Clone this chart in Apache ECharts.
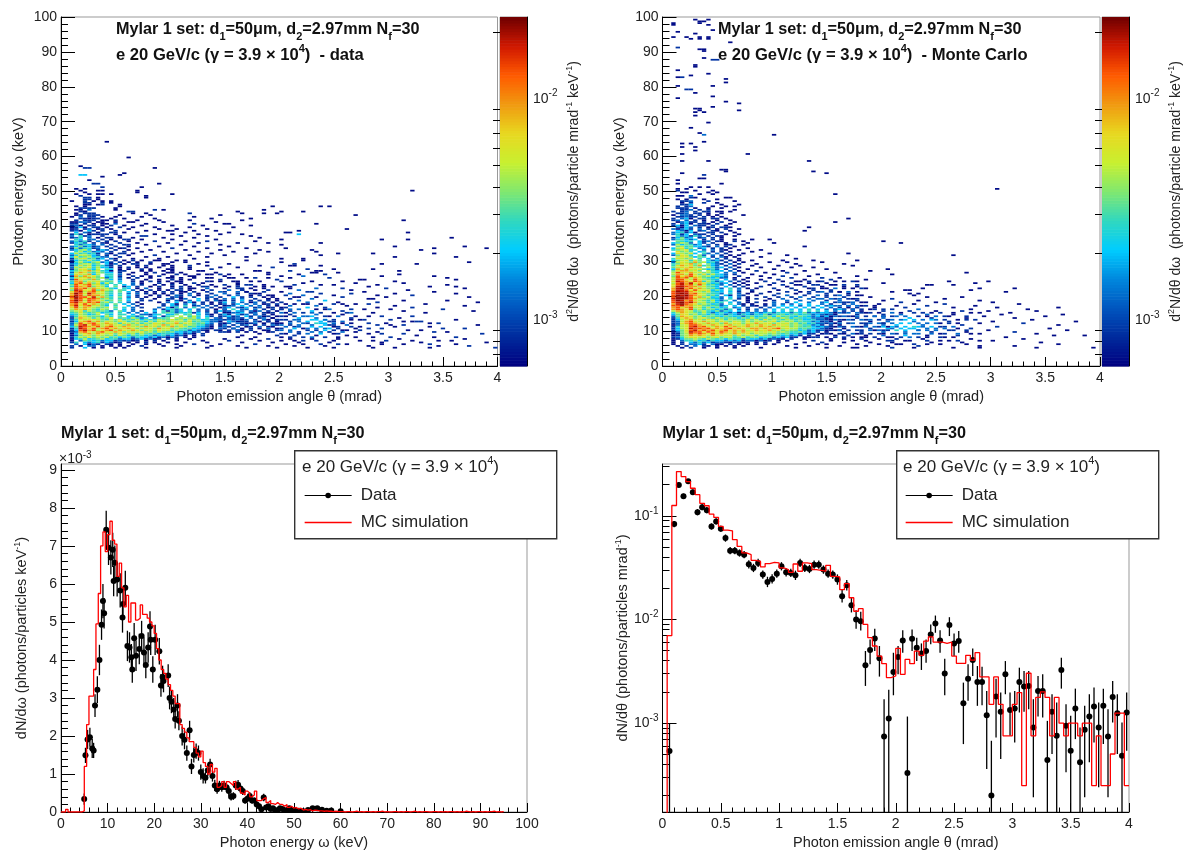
<!DOCTYPE html>
<html><head><meta charset="utf-8">
<style>html,body{margin:0;padding:0;background:#fff}#c{width:1186px;height:851px}</style>
<script src="https://cdn.jsdelivr.net/npm/echarts@6/dist/echarts.min.js"></script>
</head><body><div id="c"></div>
<script>
// ---------- values ----------
const THETA_BIN = 0.04, ENERGY_BIN = 0.5;
const levelCodes = '123456789abc';
const levelValues = [6.7e-4, 8.9e-4, 1.28e-3, 2.0e-3, 2.75e-3, 3.5e-3, 4.7e-3, 6.1e-3, 9.1e-3, 1.35e-2, 1.8e-2, 2.1e-2];
// each row: "keV col:levels col:levels ..." (col = theta bin, '.' = empty)
const dataCells = [
"64 10:1","59.5 15:1","57 4:1","56.5 5:22 21:1","55 14:1","54.5 4:44 13:1","54 9:1","53 6:1","52 7:22 22:1","51 9:2 18:1",
"50.5 3:1 5:1","50 4:1 8:1 9:1 17:1 80:1","49.5 5:1 17:1","49 3:1 6:1 8:11 11:1 25:1","48.5 4:2 19:1","48 5:22 8:1 19:1","47.5 5:22 8:1",
"47 2:1 5:2 7:1 9:1 11:1","46.5 5:22 9:2 11:1","46 5:11 8:1 9:2 13:1","45.5 3:1 5:1 13:1 48:1 59:1 61:1","45 4:22 6:22 12:1","44.5 3:11 6:3 12:1 21:2 23:1 46:1",
"44 4:22 5:1 15:22 40:1 50:1 55:1","43.5 3:1 5:222 16:1 19:1 29:2 41:1 46:1 49:1","43 3:12 6:222 13:1 20:1 36:1 67:1","42.5 2:1 4:3 6:22 9:1 12:1 18:1 30:1",
"42 4:221 7:22 11:1 14:1 21:1 34:1 43:1","41.5 3:2 5:222 9:11 12:2 17:1 22:1 29:1 41:1 78:1","41 2:11 4:33 6:2 8:11 12:1 15:11 23:1 35:1","40.5 2:22 5:2 7:1 9:11 12:3 19:1 30:2 37:11 58:1",
"40 2:2 3:31 6:22 9:1 11:2 14:1 18:1 25:1 32:1 43:1","39.5 2:1 3:2 4:41 7:22 10:1 13:2 16:1 21:1 29:1 39:1","39 2:12.2 6:3 8:12 11:1 15:1 22:1 26:1 33:1 65:1","38.5 2:2 3:31 6:4 7:2 9:2 12:2 19:1 24:11 30:1 35:1 54:1",
"38 3:4.3 6:2 8:1 11:22 14:1 17:1 28:1 38:1 51:11 79:1","37.5 2:2 3:52 6:1 7:222 10:2 12:1 21:1 25:1 31:1 36:1 41:1 54:4","37 2:3 4:5 5:2 6:3 9:2 13:2 18:22 27:1 33:1 43:1","36.5 2:2 3:35 6:3 8:1 10:22 13:1 16:1 23:1 30:1 45:1 89:1",
"36 3:5 4:4.3 7:3 9:2 11:1 14:22 18:1 25:1 35:1 50:1 73:1 79:1","35.5 2:3 3:53 5:5 6:2 8:3 10:2 12:2 15:1 21:2 28:1 33:2 44:1","35 2:2 3:45 5:3 7:2 9:2 10:1 13:2 17:1 24:1 31:1 40:1 47:1 59:1","34.5 3:5 4:35 6:4 7:3 9:3 11:2 14:22 19:1 27:1 36:1 50:1",
"34 2:3 3:46 5:3 6:42 8:3 10:2 12:2 15:1 22:1 30:1 38:1 76:1 92:1","33.5 2:2 3:6 4:35 6:5 7:2 8:3 11:2 13:12 17:1 25:2 33:1 42:1 51:1 85:1 97:1","33 2:3 3:46 5:7 6:4 8:24 10:3 12:2 15:1 20:1 28:1 36:1 45:1 57:1 82:1","32.5 3:57 5:46 7:34 9:3 11:2 14:2 18:1 23:1 31:1 39:1 47:1 58:1",
"32 2:4 3:75 5:6 6:45 8:2 10:31 13:22 16:1 26:1 34:1 44:1 63:1 71:1 85:1","31.5 2:3 3:57 5:76 7:4 8:3 10:2 12:2 15:1 21:2 29:1 37:1 59:1","31 2:4 3:85 5:6 6:74 8:53 10:3 13:2 19:1 24:1 33:1 42:1 76:1 90:1","30.5 2:2 3:67 5:85 7:6 8:34 11:3 12:1 16:1 22:1 30:1 50:1 55:1",
"30 2:2465754.3.2 14:1.2 18:1 21:11 26:1.1 42:1 55:1","29.5 2:1575467342 13:2.1 17:1 20:2 25:1 28:1 33:1 50:1 93:1","29 2:3467756.41 12:3 14:1 16:22 20:1 23:11 31:1 38:1 53:2 73:1 81:1","28.5 2:2586746532.2 17:1 19:2 23:1.1 29:2 33:1 45:1 52:11 59:1",
"28 2:3767857442 13:1 15:2.1 19:1 22:1 25:1 29:1 36:1 40:1 48:2","27.5 2:2688647.54.1 15:1 18:2.1 24:11 29:1 34:2 56:2 62:1 71:1","27 2:4678968541.2 14:2 18:1 20:1 23:1.1 31:11 44:11 52:2 58:11 77:1","26.5 2:3798657644.2 16:1 19:1 21:2 24:11 27:1 35:1 47:1 57:11 63:1",
"26 2:4887947.55.3 15:1 19:1 23:1 26:2 28:1 31:1 38:1 54:1 60:2 77:1","25.5 2:2969786.45.2 16:2.1 20:1 22:2 25:1 29:11 37:1 50:1 55:3 73:1 85:1","25 2:4788976735.3 15:1 17:2 20:1 24:11 27:1 30:1 33:1 42:1 52:1 61:2 88:1","24.5 2:3a87696.64.3 16:2 19:1 22:1 25:2 27:1 29:1 36:2 49:2 68:11 90:1",
"24 2:5996878656.4 16:2 18:1 20:2 22:1 24:1 26:11 34:1 45:1 50:2 57:1 64:1 76:1","23.5 2:49a7968475.5 16:3.1 22:2 25:1 27:1 30:2 32:1 40:1 55:1 67:1 78:1","23 2:6a89a7865.5.4 16:3 18:2 21:1 23:1 25:2 28:1 31:1 34:1 53:2 59:1 62:1 72:1 88:1","22.5 2:5a98a6874.6 14:2 15:4 17:2 20:1 22:2 25:1 27:2 29:1 46:1 51:11 70:1 84:1 90:1",
"22 2:7a9a7987754.5 15:4 17:1 19:3 22:1 25:2 27:2 29:11 43:1 52:1 58:3 64:2 74:2 92:1","21.5 2:6ba88a6976.6 14:5.3 18:1 20:2 22:1 24:1 26:22 29:1 41:1 47:2 54:3 66:1 79:1","21 2:8ab79a8865.6 15:4 17:2 19:1 21:1 23:2 25:2 27:11 30:2 42:2 50:1 56:22 69:1 85:1","20.5 2:9ca8b97865.5 15:3 17:3 19:2 21:1 23:1 25:2 27:1 29:3 31:1 44:1 52:3 59:2 66:2 76:1 90:1",
"20 2:9ba7a99764.5 15:4 17:2 20:1 22:2 24:1 26:32 29:3 31:1 47:1 51:2 55:3 62:1 72:1 80:2","19.5 2:acaa8b7965.6 15:3 17:2 19:1 22:1 25:231 30:2 33:2 48:1 53:11 58:1 64:2 74:1 93:1","19 2:9ba8aa9675.5 15:4 18:2 21:1 24:32 27:13 31:4 33:2 35:1 47:1 52:2 57:3 70:11","18.5 2:aca7a98756.6 15:4 18:2 20:2 24:1 26:31 29:3.4 33:2 36:1 49:1 54:3 60:4 78:1 88:1",
"18 2:ab98a9a675.5 15:3 17:1 22:1 24:3 26:4.2 29:41 32:2 34:1 50:2 56:3 63:1 72:2 95:1","17.5 2:9a8a89765.6 14:4 16:3 18:1 23:2 25:41 28:3 30:3 32:2 34:1 36:1 51:1 55:11 62:2 67:1 83:1","17 2:9b89a7864.5 15:4 17:2 23:2 25:43 28:5 30:2 31:3 33:3 35:2 37:1 52:3 58:3 65:1 76:1 92:1","16.5 2:8a7987667.6 14:5 16:3 18:2 22:3 24:41 26:5 28:3 30:5 32:3 34:2 36:1 51:2 56:4 60:2 72:1 80:2",
"16 2:798986576.5 14:4 16:3 21:3 23:24 25:53 27:5 29:4 31:3 33:3 35:1 37:1 50:1 54:3 61:3 69:1 87:2","15.5 2:6785765653.6 14:4 16:3 18:2 21:4 23:5 24:2 25:5 26:3 27:4 29:5 31:3 33:2 35:2 52:2 57:4 64:2 78:1 94:1","15 2:5686567455.5 15:3 17:3 19:4 21:3.5 24:6 25:5 26:3 27:5 28:4 29:5 30:2 31:4 33:3 35:2 37:1 53:3 59:2 66:3 83:1",
"14.5 2:4576457.64.5 14:5.4.3 19:3 20:2 21:45.4 25:46.5 29:6.5 31:4 33:3 34:1.2 44:2 52:2 58:3 64:1","14 2:3587666475 13:6.4 16:5 17:3 18:5 20:34.2 24:5 25:6.7.6 29:5 30:7 31:5 33:4 34:2.2 46:1 50:2 55:3 60:2 70:1","13.5 2:2698757568.5 14:6 15:4 16:7 17:5 18:34.3 22:5 23:5 24:6.7 27:67 29:6 30:7 31:4 33:5.3 36:2.1 48:1 54:4 58:3 66:2 77:1",
"13 2:35878876 10:5 11:7 12:6 13:8 14:5 15:6 16:5 17:7 18:4 19:6 20:5 21:5 22:7 23:6 24:6 25:8 26:6 27:7 28:5 29:7 30:6 31:6 32:4 33:5 34:3 35:3 36:1 39:2 49:2 53:3 60:4 68:1 90:1","12.5 2:2489a7 8:96 10:87 12:6 13:87 15:5 16:7 17:6 18:6 19:4 20:7 21:5 22:7 23:8 24:6 25:7 26:8 27:7 28:6 29:8 30:5 31:6 32:5 33:4 34:3 35:3 36:1 40:1 47:1 52:2 56:4 62:2 80:1","12 2:36a8 6:9a 8:87 10:98 12:7 13:5 14:8 15:7 16:6 17:8 18:5 19:7 20:6 21:8 22:7 23:6 24:8 25:7 26:9 27:6 28:8 29:7 30:6 31:5 32:6 33:4 34:3 36:2 37:1 42:1 50:1 55:3 58:5 66:1 86:2",
"11.5 2:37ab 6:8a 8:97 10:89 12:7 13:8 14:6 15:9 16:7 17:6 18:8 19:6 20:7 21:8 22:7 23:9 24:6 25:8 26:7 27:8 28:6 29:7 30:6 31:5 32:5 33:3 34:2 36:1 49:2 54:3 60:4 75:1 95:1","11 2:46ba 6:98 8:a7 10:9a 12:8 13:7 14:9 15:8 16:7 17:8 18:6 19:9 20:7 21:8 22:6 23:8 24:7 25:9 26:6 27:8 28:7 29:5 30:6 31:4 32:4 33:3 34:1 36:2 48:1 53:2 57:4 63:2 84:1","10.5 2:25ba 6:8a 8:79 10:a8 12:9 13:7 14:8 15:9 16:8 17:6 18:8 19:7 20:8 21:6 22:9 23:7 24:8 25:6 26:7 27:6 28:5 29:6 30:4 31:4 32:3 33:2 34:1 39:1 50:2 56:3 61:4 70:2 92:2",
"10 2:24ab 6:9a 8:78 10:9a 12:7 13:9 14:8 15:7 16:9 17:8 18:6 19:8 20:7 21:6 22:8 23:7 24:7 25:5 26:6 27:5 28:5 29:3 30:4 31:3 32:2 33:1 40:1 47:1 52:3 58:2 64:1 79:1","9.5 2:239a 6:87 8:9a 10:87 12:9 13:8 14:6 15:8 16:7 17:7 18:8 19:6 20:7 21:5 22:7 23:6 24:5 25:6 26:4 27:4 28:3 29:4 30:2 31:3 33:1 37:2 42:1 48:2 54:2 59:3 67:1 88:1","9 2:1478 6:97 8:98 10:7 11:8 12:6 13:8 14:7 15:6 16:7 17:5 18:7 19:6 20:5 21:6 22:4 23:5 24:5 25:4 26:3 27:4 28:2 29:3 30:1 32:2 45:1 51:1 56:3 62:1 73:2 96:2",
"8.5 2:13 4:68 6:76 8:87 10:6 11:7 12:5 13:7 14:6 15:4 16:6 17:5 18:6 19:4 20:5 21:3 22:4 23:5 24:3 25:4 26:2 27:3 28:1 30:1 32:2 41:1 49:2 53:2 58:1 65:1 81:1","8 2:2576 6:86 8:76 10:7 11:5 12:6 13:4 14:6 15:5 16:3 17:5 18:4 19:4 20:3 21:4 22:2 23:3 24:1 25:3 26:2 28:1 30:1 40:1 44:1 50:1 55:2 60:2 71:1 85:1","7.5 2:1 3:4 4:57 6:45 8:67 10:4 11:5 12:5 13:3 14:4 15:4 16:2 17:3 18:4 19:2 20:3 21:1 22:2 24:2 26:1 29:1 37:1 43:1 47:2 52:1 57:1 63:1 77:1 92:1",
"7 2:1 4:36 6:54 8:5 9:3 10:4 11:4 12:2 13:3 14:2 15:3 16:1 17:2 19:1 21:2 23:1 26:1 32:1 38:2 45:1 50:1 55:2 68:1 74:2 89:1","6.5 2:2 3:5 5:4 6:3 7:45 9:2 10:4 11:3 12:1 13:2 15:1 17:1 19:2 21:1 24:1 28:1 33:1 41:1 48:1 54:1 61:1 73:1 82:1 97:1","6 3:3 5:4 6:1 7:3 8:2 10:2 11:1 13:1 16:1 19:1 22:1 26:1 30:2 36:1 44:2 51:1 59:2 65:1 78:1",
"5.5 2:2 4:1 6:3 7:3 9:1 11:1 13:1 15:1 18:2 23:1 27:1 34:1 40:1 47:1 53:1 60:1 70:1 86:1 93:2","5 2:2 5:4 7:1 9:1 12:1 14:1 19:1 26:1 33:1 42:1 49:1 56:1 62:1 71:1 76:1 84:1 99:2",
"26 33:11 36:2 41:1 47:1","25 34:1 38:11 44:2 47:1","24 33:2 36:1 39:11 43:1","23 37:2 40:1 42:22 46:1","22.5 32:22 35:1 38:1 40:2 44:1 48:1","22 33:3 37:1 40:22 46:1","21.5 32:1 34:2 38:3 41:2 44:1","21 33:2 36:32 40:3 42:1 46:2","20.5 34:2 37:3 40:2 43:2 45:1",
"20 33:2 35:3 38:2 40:3 43:1 45:2 48:1","19.5 34:3 36:2 39:4 41:2 43:2 46:1","19 35:2 37:3 39:3 41:3 44:2 47:1 49:1","18.5 35:3 37:2 39:2 41:4 43:2 45:2 47:2","18 36:2 37:4 39:3 41:3 43:1 44:3 46:2 48:1","17.5 37:3 39:2 40:4 42:3 44:3 46:1 47:2 49:2","17 38:2 39:3 41:4 43:3 45:3 47:2 49:1",
"16.5 37:3 38:4 40:3 41:2 42:4 44:2 45:3 47:1 48:2 50:1","16 37:3 39:5 41:3 42:3 44:3 46:2 48:2 50:2","15.5 36:4 37:2 38:3 40:4 41:3 43:3 44:1 45:3 47:2 49:1","15 38:1 39:3 40:3 41:4 43:2 44:3 46:2 47:1 48:2 51:1","14.5 37:4 38:2 40:4 41:2 42:3 44:3 46:2 48:1","14 37:3 38:4 39:2 40:3 42:4 43:2 45:3 47:2 49:1",
"13.5 38:3 39:2 40:3 41:2 43:3 45:2 46:3 48:1","13 36:3 37:2 38:3 40:3 41:1 42:3 44:2 46:3 47:1 49:2 51:2","12.5 38:4 39:3 41:2 42:2 44:3 45:1 47:2 49:1","12 38:3 40:3 41:2 43:2 44:3 46:1 48:2 49:1","11.5 37:3 39:2 41:2 42:3 44:1 46:2 48:3","11 37:3 38:2 40:3 42:1 43:2 45:3 47:1","10.5 36:3 37:2 39:3 41:1 43:2 45:1 47:3 49:1","10 35:2 36:1 38:2 40:3 41:1 43:2 46:1 49:2","9.5 36:2 38:1 40:2 44:1 47:1",
"17.5 53:1 59:1 64:1 70:2","16 52:3 58:1 60:1 66:2 75:1","15 50:3 55:2 57:3 62:1 65:2 71:1","14 51:1 53:2 56:34 61:1 63:3 67:1 73:2 80:2","13 50:2 54:3 57:44 60:3 62:2 66:1 69:2 75:2","12.5 54:3 59:4 61:2 64:3 78:1 81:22","12 52:3 56:2 59:44 62:3 64:1 70:2 74:1 84:1","11.5 50:3 52:2 57:3 61:22 65:3 72:2 78:2","11 51:3 54:3 59:4 62:1 66:2 68:1 76:1","10.5 53:4 55:1 58:3 60:3 63:2 67:1 73:2 87:2","10 50:3 56:2 60:4 62:2 65:1 68:2 82:1","9.5 52:3 57:3 61:2 64:3 72:1 85:2","9 50:2 54:2 59:4 63:2 70:1 78:2","8 52:2 57:3 63:1 67:1 75:2 90:2","7 53:1 58:2 62:1 71:1 80:1 86:1","6 55:1 63:2 73:1 84:2 90:1"
];
const mcCells = [
"99 7:1 10:1","98.5 8:1 9:1","98 2:1 8:1","97.5 2:1 10:1","96 11:1","95.5 3:1","95 7:1","94 2:1 5:1 8:1 10:1","93.5 6:1 10:1 8:1","92.5 15:1","91 3:2","90.5 8:11","90 9:1",
"88 9:1","87.5 11:22","86 7:1","85.5 7:1","84.5 3:1","83.5 10:1","83 6:1","82.5 3:12","82 14:1","81 14:1","80 3:1 11:1","79 5:22","78 7:1","77 11:1","76.5 3:1","75.5 14:1","75 17:1",
"74 11:1","73.5 7:11","73 8:1 17:1","72.5 7:1 9:1","71.5 7:1","69.5 10:1","68 6:1","66.5 8:1","66 9:3 25:1","64 9:1","63.5 4:1 6:1","62.5 4:1 7:1","61.5 7:1","60.5 4:1 19:1","58.5 10:1 33:1","58.5 4:1",
"56 13:11","55.5 14:1 34:1","55 4:1 37:1","54.5 9:2","53.5 8:11","53 3:1","52 3:1 13:1","51 6:1 8:1 10:1","50.5 3:1 5:1 76:1","50 3:2 7:1 11:1","49.5 5:1 4:1 10:1 12:1","49 8:1 11:1 39:1","48.5 3:11 6:3",
"48 6:2 7:1 14:11","47.5 3:1 5:1 9:1 12:1","47 4:22 6:3 16:1 10:2","46.5 4:1 6:2 9:2 12:1","46 4:22 6:4 13:1 17:1","45.5 3:2 5:2 6:3 11:1 14:1 16:1","45 3:22 5:2 7:1 10:1 13:1","44.5 4:22 6:3 8:2 10:2 16:1",
"44 2:2 4:2 5:3 7:2 9:22 12:11 15:1","43.5 3:2 4:23 7:22 10:1 13:1","43 2:1 4:33 6:2 8:2 10:1 12:1 18:1","42.5 3:22 5:3 6:22 9:2 11:1 13:1","42 2:2 4:34 6:1 8:22 11:22 14:1 42:1","41.5 2:2 3:3 5:3 7:2 9:1 12:1 15:1","41 3:13 5:42 7:2 9:2 11:1 13:2 16:1 39:1",
"40.5 2:2 4:3 5:4 6:1 8:22 10:1 12:2 15:1","40 2:2 3:41 5:4 7:32 9:2 11:2 14:1","39.5 3:3 4:14 6:3 8:2 10:12 13:22 15:1 33:1","39 2:31 4:3 5:4 6:2 8:3 10:2 12:1 14:2 17:1","38.5 3:43 5:1 6:4 8:2 9:3 11:21 15:1 32:1",
"38 2:3 3:4 4:52 6:4 7:1 10:22 13:2 16:1","37.5 2:3 3:5 4:24 7:32 9:2 11:2 14:1 17:1","37 3:53 5:4 6:25 8:3 10:2 12:21 16:1","36.5 2:2 3:46 5:3 6:4 8:23 11:2 13:1","36 2:3 3:5 4:64 6:3 7:4 9:2 11:2 13:1 16:1 20:1 24:1","35.5 3:65 5:4 6:5 8:42 10:3 12:21 16:2 18:1 50:1",
"35 2:4 3:57 5:6 6:3 8:4 9:2 11:2 14:1 19:1 25:1 54:1","34.5 2:3 3:7 4:46 6:53 8:4 10:3 12:2 14:12 18:1","34 3:67 5:56 7:4 8:43 10:2 12:3 14:2 16:1 32:1","33.5 2:4 3:78 5:5 6:6 8:3 9:4 11:2 13:2 15:1 19:1","33 2:5 3:67 5:8 6:4 7:5 9:3 11:3 13:21 17:1 22:1",
"32.5 3:86 5:7 6:5 8:4 9:5 11:2 13:2 15:1 20:1","32 2:4 3:87 5:6 6:8 7:4 9:5 10:3 12:3 14:2 18:1 24:1 42:1","31.5 2:3 3:68 5:7 6:5 8:6 9:3 11:3 13:2 15:1 17:1 28:1 66:1","31 3:78 5:86 7:4 8:6 9:5 11:2 13:3 14:1 16:1 22:1","30.5 2:5 3:87 5:6 6:8 8:5 10:4 12:3 14:2 17:1 30:1",
"30 2:4678576.5342.2 17:1 20:1 27:1 34:1 44:1","29.5 2:3787696745 12:3 14:2 16:1 18:1 24:1 28:1 36:1","29 2:5688967.6432.3 17:2 21:1 30:1 41:1","28.5 2:5897869564 12:3 14:2 16:1 20:1 26:1 31:1 43:1","28 2:6788976.7534.3.1 22:1 29:1 34:1","27.5 2:4979878645 12:3.2.2 19:1 25:1 37:1 51:1",
"27 2:6899786.7544.3.1 21:2 27:1 32:1 47:1","26.5 2:7a88978 9:6754.3.3 18:1 23:1 28:2 39:1 69:1","26 2:7997a8685754 14:3.2 20:1 25:1 30:1 35:1 52:1","25.5 2:6a89a87 9:6 10:7 11:5 12:4 13:4 14:3 17:2 22:1 27:2 33:1 44:1","25 2:7a9a798 9:6 10:5 11:4 12:6 13:3 14:3 16:1 19:1 24:1 29:2 36:2 40:1",
"24.5 2:7aa87a8 9:7 10:6 11:5 12:4 14:4 16:2 18:1 22:1 26:2 32:1 38:2 46:1","24 2:8ba98a9 9:5 10:7 11:5 12:3 13:4 15:3 17:2 19:1 23:2 27:1 31:1 35:1 43:2 65:1 74:1","23.5 2:7ab9b89 9:8 10:6 11:4 12:5 13:3 14:4 16:1 18:1 21:1 25:2 29:2 33:1 37:1 50:1 71:1","23 2:8ab9a7a 9:7 10:5 11:6 12:4 13:3 15:3 17:2 19:1 24:1 27:2 30:1 34:2 39:1 60:11 66:1","22.5 2:8bba9 7:97 9:8 10:6 11:5 12:4 14:4 16:2 18:2 22:2 28:1 32:2 36:1 41:1 44:1",
"22 2:9bc9a 7:89 9:7 10:6 11:6 12:4 13:3 15:5 17:3 19:1 21:1 25:2 29:2 33:1 37:1 43:1 46:1 59:1 72:1 80:1","21.5 2:9bba8 7:a8 9:8 10:7 11:4 12:6 13:4 15:5 17:3 20:2 26:1 30:2 34:2 38:2 55:11 70:1","21 2:acbb9 7:87 9:6 10:8 11:5 12:4 13:4 15:4 17:2 20:1 24:1 28:2 31:1 35:2 40:1 52:1 78:1","20.5 2:abcb9 7:a8 9:7 10:6 11:5 12:5 13:3 15:5 17:3 19:1 22:2 26:2 30:1 33:2 37:2 42:1 56:1 58:1","20 2:acbca 7:98 9:7 10:5 11:6 12:4 14:4 15:2 17:3 18:2 21:1 25:2 28:3 32:2 35:3 39:2 44:1 57:1",
"19.5 2:accba 7:89 9:6 10:7 11:4 12:5 13:3 15:4 17:3 19:1 23:2 26:2 29:2 31:3 34:2 37:2 41:2 47:1 60:1 68:1","19 2:bccba 7:9 8:7 9:8 10:6 11:5 12:4 13:3 15:5 17:2 19:1 21:2 24:1 27:3 30:2 33:3 36:3 39:2 43:1 52:2 64:1","18.5 2:acb9a 7:87 9:6 10:5 11:7 12:4 13:3 14:5 16:3 19:1 23:1 25:2 28:3 31:3 34:3 37:2 40:3 44:2 50:1 58:1 72:1",
"18 2:abcab 7:97 9:7 10:5 11:6 12:4 13:5 15:4 17:3 19:1 21:2 25:3 28:2 30:4 33:3 36:3 39:2 42:2 46:1 54:2 62:1 75:1","17.5 2:9bca9 7:8 8:6 9:7 10:6 11:4 12:5 13:3 15:5 17:3 18:1 20:1 23:1 25:3 27:3 29:3 31:4 33:4 36:3 38:2 41:2 43:3 49:1 57:1 64:2 81:1","17 2:aab99 7:7 8:8 9:6 10:5 11:6 12:5 13:3 14:4 16:4 18:2 20:2 21:1 23:2 25:3 27:4 29:4 31:3 33:4 35:4 37:3 39:3 42:2 45:1 53:1 60:2 71:1",
"16.5 2:9a89a 7:77 9:5 10:7 11:4 12:6 13:4 14:5 16:3 17:4 19:2 22:2 24:3 26:4 28:4 30:4 32:4 34:3 36:4 38:3 40:2 42:1 44:2 48:1 55:2 66:1 76:1 90:1","16 2:9a98a 7:6 8:7 9:5 10:6 11:6 12:4 13:5 14:3 15:5 17:3 19:2 21:3 23:3 25:4 27:5 29:4 31:4 33:5 35:4 37:3 39:2 41:2 43:1 47:1 52:2 58:3 70:1 83:1","15.5 2:7998 6:75 8:6 9:7 10:5 11:4 12:6 13:3 14:5 15:4 17:4 19:3 21:3 23:3 25:4 27:4 29:5 31:4 33:5 35:5 37:4 39:3 41:2 43:2 45:1 50:2 56:2 62:1 68:2 74:1 85:1",
"15 2:5798 6:76 8:5 9:7 10:5 11:3 12:4 13:5 14:4 15:3 16:4 17:2 18:3 19:4 20:3 21:4 22:3 23:4 24:5 25:3 26:5 27:4 28:5 29:3 30:5 31:4 32:6 33:3 34:4 35:3 36:4 37:2 38:3 39:1 41:2 46:1 52:3 57:2 63:2 72:1 79:1",
"14.5 2:4688 6:67 8:5 9:6 10:4 11:6 12:4 13:5 14:3 15:5 16:4 17:3 18:5 19:4 20:3 21:5 22:4 23:6 24:3 25:5 26:5 27:6 28:4 29:5 30:6 31:4 32:5 33:5 34:3 35:4 36:3 37:2 38:3 39:1 44:2 50:2 54:3 60:3 66:1 77:1 91:1",
"14 2:3698 6:86 8:7 9:5 10:6 11:6 12:5 13:4 14:6 15:5 16:4 17:5 18:3 19:5 20:6 21:4 22:5 23:6 24:6 25:4 26:7 27:5 28:6 29:5 30:4 31:6 32:5 33:4 34:3 35:4 36:2 37:3 38:1 43:1 48:2 53:3 58:2 64:2 73:1 87:1",
"13.5 2:2589 6:86 8:7 9:8 10:6 11:5 12:7 13:6 14:5 15:6 16:6 17:4 18:6 19:5 20:7 21:5 22:6 23:5 24:7 25:6 26:5 27:7 28:6 29:4 30:6 31:5 32:4 33:5 34:3 35:3 36:3 37:1 38:2 44:2 50:3 56:4 61:2 69:1 80:1",
"13 2:2478 6:97 8:8 9:6 10:8 11:7 12:6 13:7 14:5 15:7 16:6 17:6 18:5 19:7 20:6 21:7 22:5 23:8 24:6 25:7 26:6 27:5 28:7 29:6 30:5 31:6 32:4 33:4 34:5 35:3 36:3 37:2 38:1 41:1 46:2 52:3 55:4 62:3 71:2 84:1",
"12.5 2:2379 6:a8 8:7 9:9 10:7 11:8 12:6 13:8 14:7 15:6 16:8 17:7 18:6 19:8 20:6 21:7 22:8 23:6 24:7 25:8 26:5 27:7 28:6 29:7 30:5 31:6 32:5 33:5 34:3 35:4 36:2 37:3 38:1 40:1 47:1 51:3 57:3 65:2 75:1 94:1",
"12 2:2389 6:a9 8:8 9:7 10:9 11:7 12:8 13:6 14:9 15:7 16:8 17:8 18:6 19:8 20:7 21:9 22:7 23:8 24:8 25:6 26:8 27:7 28:8 29:6 30:7 31:5 32:6 33:4 34:5 35:3 36:3 37:2 39:1 45:2 49:3 54:4 60:3 67:1 82:2",
"11.5 2:1378 6:aa 8:9 9:8 10:7 11:9 12:8 13:7 14:8 15:9 16:7 17:8 18:7 19:9 20:8 21:7 22:9 23:8 24:7 25:9 26:7 27:8 28:7 29:6 30:7 31:6 32:5 33:5 34:3 35:4 36:2 38:2 40:1 46:2 50:3 53:4 59:3 68:2 90:1",
"11 2:2578 6:ab 8:9 9:a 10:8 11:7 12:9 13:8 14:a 15:8 16:9 17:7 18:8 19:9 20:7 21:8 22:9 23:8 24:9 25:7 26:8 27:7 28:8 29:6 30:7 31:6 32:5 33:6 34:4 35:3 36:4 37:2 39:1 45:1 48:3 52:4 58:4 64:2 76:2",
"10.5 2:2478 6:ba 8:a 9:9 10:a 11:8 12:9 13:8 14:9 15:a 16:8 17:9 18:8 19:7 20:9 21:9 22:7 23:9 24:8 25:9 26:a 27:7 28:8 29:7 30:7 31:5 32:6 33:5 34:4 35:4 36:3 37:2 38:1 41:1 47:2 51:4 56:4 62:3 70:2 88:1",
"10 2:2468 6:ab 8:9 9:a 10:9 11:a 12:8 13:9 14:a 15:8 16:9 17:8 18:9 19:7 20:8 21:9 22:8 23:8 24:9 25:7 26:8 27:6 28:7 29:6 30:6 31:4 32:5 33:3 34:4 35:2 37:1 40:1 44:2 49:3 53:5 58:3 66:2 74:1 92:1",
"9.5 2:1368 6:ba 8:a 9:8 10:a 11:9 12:8 13:a 14:9 15:8 16:9 17:7 18:9 19:8 20:7 21:8 22:7 23:8 24:7 25:8 26:6 27:7 28:6 29:5 30:5 31:6 32:4 33:3 34:4 35:2 37:1 41:2 45:2 50:3 55:3 61:2 69:1 80:2",
"9 2:1267 6:a9 8:a 9:9 10:8 11:a 12:8 13:9 14:8 15:7 16:9 17:8 18:7 19:8 20:6 21:8 22:7 23:7 24:6 25:7 26:6 27:5 28:6 29:4 30:5 31:3 32:4 33:2 34:2 36:1 40:2 43:3 47:2 52:3 57:3 63:1 72:1 85:1",
"8.5 2:1 3:2 4:67 6:98 8:9 9:8 10:7 11:9 12:7 13:8 14:7 15:8 16:6 17:8 18:6 19:7 20:7 21:5 22:7 23:6 24:5 25:6 26:5 27:4 28:5 29:3 30:4 31:2 33:2 35:1 39:1 42:2 46:1 50:3 55:4 60:1 67:2 89:1 96:1",
"8 2:2 3:3 4:57 6:88 8:7 9:8 10:6 11:7 12:8 13:6 14:7 15:7 16:5 17:6 18:7 19:5 20:6 21:6 22:4 23:5 24:5 25:3 26:4 27:3 28:4 29:2 30:2 32:1 35:2 39:2 43:1 48:2 52:1 56:3 64:1 78:1",
"7.5 2:1 3:2 4:46 6:67 8:6 9:5 10:7 11:6 12:5 13:6 14:4 15:6 16:5 17:5 18:3 19:5 20:4 21:4 22:3 23:4 24:2 25:3 26:2 27:1 29:2 32:1 38:1 41:1 45:2 49:1 53:2 59:1 70:1 82:1",
"7 2:1 4:35 6:56 8:4 9:5 10:3 11:5 12:4 13:4 14:3 15:4 16:3 17:4 18:2 19:3 20:3 21:1 22:3 23:1 24:2 26:1 28:1 34:2 38:1 43:1 46:1 51:2 56:1 65:1 75:1","6.5 2:1 4:2 6:43 8:5 9:3 10:4 11:2 12:3 13:3 14:2 15:1 16:3 17:2 18:1 19:2 21:1 23:2 26:1 32:1 36:2 41:1 47:1 52:1 61:1 68:1 86:1",
"6 2:1 4:2 6:3 7:3 8:4 9:2 11:3 12:1 13:1 15:2 17:1 19:1 21:1 23:1 25:1 30:1 35:1 37:1 44:1 49:1 54:1 60:1 69:1 90:1","5.5 3:1 5:2 7:3 9:2 10:1 12:1 14:1 16:1 18:1 28:1 33:1 40:1 46:1 51:1 58:2 72:1 80:1","5 4:1 6:2 9:1 12:1 16:1 22:1 30:1 37:1 43:11 52:2 57:1 66:1 72:1 85:1 98:1",
"24 30:1 33:2 36:2 39:1 41:1 44:1","23 31:1 35:2 38:1 41:2 44:2","22 34:2 36:1 39:3 41:1 45:2","21 33:2 36:3 38:2 40:1 42:3 44:1","20 37:2 40:3 42:2 45:1","19 35:3 38:3 40:3 42:2 44:2","18 37:4 40:3 41:2 43:3 45:1","17 38:4 40:3 42:3 44:3 46:2 48:1","16 39:3 40:4 41:3 43:3 45:2 48:2 50:2","15 37:4 40:3 42:3 44:3 45:2 47:2 49:1",
"14 37:4 39:3 40:2 41:3 42:2 44:3 46:2 48:3 50:1","13 39:3 40:2 42:3 43:2 45:3 47:3 49:2","12 38:3 40:3 42:2 43:3 46:2 47:3 50:2","11 37:3 38:2 40:3 41:2 43:3 44:2 46:3 49:2 51:1","10 36:3 38:2 39:1 40:3 42:2 45:2 47:3 48:1 51:2","9 37:2 38:1 41:1 44:1 45:2 49:2 50:1","8 33:1 34:2 37:1 41:2 45:1 46:1",
"15 54:1 59:2 61:1 66:1 70:1","14 50:3 52:2 55:3 60:1 62:3 65:1 69:2","13 51:2 54:3 57:4 59:3 61:4 64:2 67:1 69:2","12 50:2 52:3 56:4 58:3 62:3 63:1 65:2 72:1","11 50:4 53:3 55:4 57:5 59:3 61:4 63:2 66:3","10.5 52:3 54:4 57:4 60:3 64:3 67:1","10 50:2 55:4 58:3 60:3 62:3 65:2 69:2","9 53:2 55:3 58:3 61:3 64:2 67:3 70:1","8 51:1 54:2 58:2 60:1 63:2 66:1","7 52:2 55:1 60:2 63:1 67:2 72:1","6 53:1 57:2 63:1"
];
// dN/domega, units of 1e-3 per keV, one value per 0.5 keV bin
const mcEnergy = [0,0,.07,0,0,0,0,0,0,.03,1.2,2.3,3.05,3.05,3.75,4.95,5.75,7,7.37,6.85,7.3,7.65,7.15,7.05,6.2,6.55,5.9,5.4,5.7,5,5.5,5.5,5.05,5.1,5.45,5.2,5.2,5.1,5,4.9,
4.7,4.3,4,3.75,3.65,3.5,3.35,3.2,3.05,2.85,2.85,2.3,2.2,2.1,1.95,1.85,1.85,1.7,1.55,1.45,1.6,1.3,1.2,1,1.25,1.05,1.15,.65,.7,.8,.65,.8,.75,.7,.8,.6,.65,.5,.45,.55,
.5,.4,.45,.55,.3,.3,.35,.38,.25,.3,.22,.2,.25,.2,.2,.15,.2,.12,.15,.1,.12,.08,.1,.05,.07,.05,.06,.03,.05,.04,.03,.03,.02,.03,.02,.02,.01,.02,.01,.01,
.01,0,.01,.01,0,.01,.02,0,.01,0,.01,.01,0,.01,0,.01,.01,.02,0,.01,0,0,.01,.01,0,.01,0,.01,.01,0,.01,.02,0,.01,0,.01,.01,0,0,.01,.01,0,.01,0,.01,0,.01,.01,0,.01,
0,.01,0,.02,.01,0,.01,0,.01,.01,0,.01,0,.01,.01,.02,0,.01,0,.01];
const dataEnergyX = [4.98,5.25,5.7,6.2,6.7,7,7.3,7.8,8.25,8.7,9,9.25,9.7,10.2,10.7,11.1,11.3,11.55,12.05,12.7,13.2,13.3,13.8,14.25,14.7,15.1,15.3,15.7,16.1,16.8,17.3,17.8,18.2,18.7,19.1,19.25,19.7,20.2,21.1,21.45,21.8,22,23,23.3,23.7,24.2,24.5,25,25.3,26,26.5,27,27.6,28,28.5,29,29.5,30,30.5,31,31.5,32,32.5,33,33.5,34,34.5,35,35.5,36,36.5,37,37.5,38,38.5,39,39.5,40,40.5,41,41.5,42,42.5,43,43.5,44,44.5,45,45.5,46,46.5,47,47.5,48,48.5,49,49.5,50,51,52,53,54,55,56,57,58,60];
const dataEnergyY = [.34,1.49,1.91,1.97,1.67,1.62,2.8,3.22,4,4.93,5.55,5.23,7.43,6.95,6.7,6.9,6.08,6.56,6.12,5.83,5.12,5.47,5.9,4.37,4.33,4.07,3.75,4.57,4.11,4.29,4.63,4.2,3.87,4.33,4.88,4.53,3.75,4.53,4.23,3.33,3.55,3.45,3.59,3,2.9,2.7,2.45,2.8,2.4,2,1.9,1.55,2.15,1.2,1.5,1.6,1.55,1.05,.95,.9,1.1,1.25,.95,.7,.6,.7,.65,.7,.65,.55,.4,.42,.7,.72,.62,.55,.3,.35,.42,.3,.3,.2,.15,.07,.38,.12,.15,.08,.1,.02,.05,.1,.08,.03,.05,.1,.03,.05,.03,.02,.05,.1,.1,.06,.03,.04,.02];
const dataEnergyErr = [.15,.2,.25,.25,.25,.2,.3,.35,.4,.4,.45,.4,.5,.45,.45,.45,.4,.45,.45,.45,.4,.4,.45,.4,.4,.35,.35,.4,.4,.4,.4,.4,.35,.4,.4,.4,.35,.4,.35,.3,.3,.3,.3,.3,.3,.3,.25,.3,.25,.25,.25,.2,.25,.2,.2,.2,.2,.2,.2,.15,.15,.15,.15,.15,.12,.12,.12,.12,.12,.12,.1,.1,.12,.12,.1,.1,.08,.1,.1,.08,.08,.08,.06,.06,.1,.05,.05,.05,.05,.03,.04,.05,.05,.03,.04,.05,.03,.04,.03,.03,.04,.05,.05,.04,.03,.03,.02];
// dN/dtheta per 0.04 mrad bin
const mcTheta = [1e-4,.007,.1257,.267,.239,.214,.1845,.16,.132,.125,.104,.0964,.079,.0728,.0717,.0588,.0507,.0438,.0422,.0372,.0364,.0321,.0346,.0356,.0351,.0314,.0303,.0285,.0343,.0292,.0351,.0346,.0303,.0298,.0292,.0333,.0261,.0257,.0194,.0222,.0162,.012,.0127,.00895,.00667,.00555,.00444,.00375,.00275,.00285,
.00526,.00296,.00412,.00375,.00496,.00451,.00619,.00681,.00605,.00605,.00588,.00605,.00444,.00378,.00378,.00451,.00406,.00478,.00279,.00279,.00152,.00279,.00152,.000755,.000755,.00152,.00197,.00025,.00303,.000755,.00177,.002,.00177,.000755,.00177,.001,.000755,.001,.001,.000755,.001,.001,.00025,.000755,.00025,.00025,.000504,.00125,.00125,.00025];
// data points from bin 1 on: log10 of value and of its error-bar ends
const thetaLog = [-3.269,-1.08,-.702,-.811,-.667,-.772,-.965,-.917,-.946,-1.103,-1.054,-1.125,-1.215,-1.337,-1.337,-1.359,-1.375,-1.468,-1.503,-1.455,-1.567,-1.638,-1.609,-1.558,-1.487,-1.545,-1.551,-1.574,-1.455,-1.503,-1.513,-1.471,-1.471,-1.519,-1.558,-1.567,-1.615,-1.776,-1.67,-1.862,-2,-2.016,-2.442,-2.295,-2.183,-2.375,-3.128,-2.955,-2.506,-2.362,-2.202,-3.481,-2.186,-2.272,-2.327,-2.304,-2.144,-2.038,-2.202,-2.522,-2.054,-2.231,-2.208,-2.808,-2.571,-2.391,-2.603,-2.603,-2.923,-3.699,-2.744,-2.891,-2.529,-2.872,-2.859,-2.603,-2.647,-2.641,-3.042,-2.689,-2.689,-3.356,-2.891,-3.122,-2.487,-3.026,-3.266,-2.859,-3.378,-3.064,-2.936,-2.84,-3.042,-2.833,-3.128,-2.747,-2.904,-3.314,-2.897];
const thetaLogLo = [-3.856,-1.11,-.727,-.836,-.687,-.797,-.995,-.947,-.976,-1.133,-1.084,-1.155,-1.25,-1.372,-1.372,-1.394,-1.41,-1.508,-1.543,-1.495,-1.607,-1.688,-1.654,-1.598,-1.527,-1.585,-1.591,-1.619,-1.495,-1.543,-1.553,-1.511,-1.511,-1.559,-1.598,-1.607,-1.665,-1.836,-1.72,-1.932,-2.09,-2.106,-2.641,-2.433,-2.304,-2.551,-3.856,-3.856,-2.731,-2.529,-2.321,-3.856,-2.304,-2.401,-2.487,-2.417,-2.24,-2.128,-2.321,-2.731,-2.16,-2.353,-2.321,-3.202,-2.785,-2.545,-2.833,-2.827,-3.442,-3.856,-3.138,-3.346,-2.721,-3.122,-3.186,-2.897,-2.891,-2.865,-3.715,-2.936,-2.946,-3.856,-3.298,-3.856,-2.667,-3.474,-3.856,-3.154,-3.856,-3.715,-3.378,-3.186,-3.619,-3.202,-3.715,-2.994,-3.298,-3.856,-3.266];
const thetaLogHi = [-3,-1.05,-.677,-.786,-.647,-.747,-.935,-.887,-.916,-1.073,-1.024,-1.095,-1.18,-1.302,-1.302,-1.324,-1.34,-1.428,-1.463,-1.415,-1.527,-1.588,-1.564,-1.518,-1.447,-1.505,-1.511,-1.529,-1.415,-1.463,-1.473,-1.431,-1.431,-1.479,-1.518,-1.527,-1.565,-1.716,-1.62,-1.792,-1.91,-1.926,-2.304,-2.192,-2.09,-2.256,-2.769,-2.679,-2.321,-2.256,-2.103,-2.936,-2.096,-2.176,-2.231,-2.192,-2.048,-1.962,-2.103,-2.378,-1.978,-2.135,-2.112,-2.609,-2.433,-2.279,-2.449,-2.455,-2.689,-3.17,-2.571,-2.705,-2.401,-2.705,-2.689,-2.465,-2.497,-2.497,-2.769,-2.545,-2.529,-2.978,-2.721,-2.801,-2.369,-2.817,-2.929,-2.667,-3.042,-2.833,-2.721,-2.657,-2.801,-2.667,-2.865,-2.593,-2.721,-2.994,-2.705];
const legendEntries = ['Data','MC simulation'];
const FONT = '"Liberation Sans"';

// ---------- helpers ----------
function parseCells(rows){
  const out=[];
  rows.forEach(r=>{
    const parts=r.trim().split(' '); const keV=+parts[0];
    parts.slice(1).forEach(p=>{
      const [c,l]=p.split(':');
      [...l].forEach((ch,i)=>{
        if(ch!=='.') out.push([(+c+i)*THETA_BIN,keV,Math.log10(levelValues[levelCodes.indexOf(ch)])]);
      });
    });
  });
  return out;
}
const renderCell=(p,api)=>{
  const t=api.value(0),e=api.value(1);
  const a=api.coord([t,e+ENERGY_BIN]),b=api.coord([t+THETA_BIN,e]);
  return {type:'rect',shape:{x:a[0],y:a[1],width:b[0]-a[0],height:b[1]-a[1]},style:{fill:api.visual('color')}};
};
const renderBar=(p,api)=>{
  const a=api.coord([0,api.value(1)]),b=api.coord([1,api.value(0)]);
  return {type:'rect',shape:{x:a[0],y:a[1],width:b[0]-a[0],height:b[1]-a[1]+0.6},style:{fill:api.visual('color')}};
};
const renderPoint=(p,api)=>{
  const x=api.value(0);
  const c=api.coord([x,api.value(1)]),l=api.coord([x,api.value(2)]),h=api.coord([x,api.value(3)]);
  return {type:'group',children:[
    {type:'line',shape:{x1:c[0],y1:l[1],x2:c[0],y2:h[1]},style:{stroke:'#000',lineWidth:1.3}},
    {type:'circle',shape:{cx:c[0],cy:c[1],r:3},style:{fill:'#000'}}]};
};
const binEdges=(vals,w)=>vals.map((v,i)=>[i*w,v]).concat([[vals.length*w,vals[vals.length-1]]]);

const CB_MIN=6.2e-4, CB_MAX=2.34e-2;
const barLog=[]; const N=120;
for(let i=0;i<N;i++){const lo=Math.log10(CB_MIN)+(Math.log10(CB_MAX)-Math.log10(CB_MIN))*i/N,hi=Math.log10(CB_MIN)+(Math.log10(CB_MAX)-Math.log10(CB_MIN))*(i+1)/N;
  barLog.push([Math.pow(10,lo),Math.pow(10,hi),(lo+hi)/2]);}

const richBase={s:{fontFamily:FONT,fontSize:14,color:'#222'},u:{fontFamily:FONT,fontSize:10,color:'#222',verticalAlign:'top',lineHeight:20}};
const powLabel=v=>'{s|10}{u|'+Math.round(Math.log10(v))+'}';
const axisCommon={axisLine:{show:true,onZero:false,lineStyle:{color:'#000',width:1}},splitLine:{show:false},
  axisLabel:{fontFamily:FONT,fontSize:14,color:'#222',margin:4}};
const nameStyle={fontFamily:FONT,fontSize:14.5,color:'#222'};
const nameRich={n:{fontFamily:FONT,fontSize:14.5,color:'#222'},k:{fontFamily:FONT,fontSize:9,color:'#222',verticalAlign:'top',lineHeight:18}};

function xLinear(grid,max,interval,name){
  return Object.assign({},axisCommon,{type:'value',gridIndex:grid,min:0,max,interval,name,nameLocation:'middle',nameGap:23,nameTextStyle:nameStyle,
    axisTick:{show:true,inside:true,length:9,lineStyle:{color:'#000'}},minorTick:{show:true,splitNumber:5,length:4.5,lineStyle:{color:'#000'}},
    axisLabel:Object.assign({},axisCommon.axisLabel,{margin:5,formatter:v=>String(+v.toFixed(2))})});
}
function yLinear(grid,name,gap){
  return Object.assign({},axisCommon,{type:'value',gridIndex:grid,min:0,max:100,interval:10,name,nameLocation:'middle',nameGap:gap,nameTextStyle:nameStyle,
    axisTick:{show:true,inside:true,length:14,lineStyle:{color:'#000'}},minorTick:{show:true,splitNumber:5,length:7,lineStyle:{color:'#000'}}});
}
// a pair of overlaid axes: first carries labels and long ticks, second the short ticks
function yCustom(type,grid,min,max,majors,minors,len,lenMin,pos,name,gap,fmt,rich,nameRot,margin,nameSize){
  const a=Object.assign({},axisCommon,{type,gridIndex:grid,min,max,position:pos,name,nameLocation:'middle',nameGap:gap,nameRotate:nameRot,
    nameTextStyle:Object.assign({},nameStyle,{fontSize:nameSize,rich:nameRich}),
    axisTick:{show:true,inside:true,length:len,customValues:majors,lineStyle:{color:'#000'}},
    axisLabel:Object.assign({},axisCommon.axisLabel,{customValues:majors,formatter:fmt,rich,margin:margin})});
  const b={type,gridIndex:grid,min,max,position:pos,axisLine:{show:false},splitLine:{show:false},axisLabel:{show:false},
    axisTick:{show:true,inside:true,length:lenMin,customValues:minors,lineStyle:{color:'#000'}}};
  return [a,b];
}
const cbMinor=[7e-4,8e-4,9e-4,2e-3,3e-3,4e-3,5e-3,6e-3,7e-3,8e-3,9e-3,2e-2];
const cbMajor=[1e-3,1e-2];
const cbName='d{k|2}N/dθ dω  (photons/particle mrad{k|-1} keV{k|-1})';
const logMajor=[1e-3,1e-2,1e-1];
const logMinor=[2e-4,3e-4,4e-4,5e-4,6e-4,7e-4,8e-4,9e-4,2e-3,3e-3,4e-3,5e-3,6e-3,7e-3,8e-3,9e-3,2e-2,3e-2,4e-2,5e-2,6e-2,7e-2,8e-2,9e-2,.2,.3];
const linMajor=[0,1,2,3,4,5,6,7,8,9];
const linMinor=[];linMajor.forEach(m=>[.2,.4,.6,.8].forEach(f=>{if(m+f<9.15)linMinor.push(+(m+f).toFixed(1));}));

const hiddenX=g=>({type:'value',gridIndex:g,min:0,max:1,show:false});
const cb0=yCustom('log',1,CB_MIN,CB_MAX,cbMajor,cbMinor,13,7,'right',cbName,38,powLabel,richBase,90,6,14);
const cb1=yCustom('log',3,CB_MIN,CB_MAX,cbMajor,cbMinor,13,7,'right',cbName,38,powLabel,richBase,90,6,14);
const y3=yCustom('value',4,0,9.157,linMajor,linMinor,14,7,'left','dN/dω (photons/particles keV{k|-1})',30,v=>String(v),undefined,90,4,14.5);
const y4=yCustom('log',5,1.39e-4,0.316,logMajor,logMinor,14,7,'left','dN/dθ (photons/particles mrad{k|-1})',30,powLabel,richBase,90,4,14.5);

const grids=[
 {left:61,top:17,width:436.5,height:349},{left:500,top:17,width:27,height:349},
 {left:662.5,top:17,width:437.5,height:349},{left:1102,top:17,width:27,height:349},
 {left:61,top:464,width:466,height:349.5},{left:662.5,top:464,width:466.5,height:349.5}
].map(g=>Object.assign(g,{show:true,borderColor:'#999',borderWidth:1,backgroundColor:'#fff',containLabel:false}));

const TS=16.2;
const boldRich={b:{fontFamily:FONT,fontSize:TS,fontWeight:'bold',color:'#111',verticalAlign:'middle',lineHeight:24},
 h:{fontFamily:FONT,fontSize:16.6,fontWeight:'bold',color:'#111',verticalAlign:'middle',lineHeight:24},
 d:{fontFamily:FONT,fontSize:11,fontWeight:'bold',color:'#111',verticalAlign:'bottom',lineHeight:24},
 p:{fontFamily:FONT,fontSize:11,fontWeight:'bold',color:'#111',verticalAlign:'top',lineHeight:24}};
const line1='{b|Mylar 1 set: d}{d|1}{b|=50μm, d}{d|2}{b|=2.97mm N}{d|f}{b|=30}';
const line2=s=>'{h|e 20 GeV/c (γ = 3.9 × 10}{p|4}{h|)  - '+s+'}';
const mkTitle=(text,left,top,rich)=>({text,left,top,padding:0,textStyle:{fontWeight:'normal',rich:rich||boldRich}});
const lgRich={t:{fontFamily:FONT,fontSize:17,fontWeight:'normal',color:'#222',verticalAlign:'middle',lineHeight:24},q:{fontFamily:FONT,fontSize:11,fontWeight:'normal',color:'#222',verticalAlign:'top',lineHeight:24}};
const lgHead='{t|e 20 GeV/c (γ = 3.9 × 10}{q|4}{t|)}';
const mulRich={t:{fontFamily:FONT,fontSize:14,fontWeight:'normal',color:'#222',verticalAlign:'middle',lineHeight:18},q:{fontFamily:FONT,fontSize:10,fontWeight:'normal',color:'#222',verticalAlign:'top',lineHeight:18}};

const mkLegend=left=>({left,top:487,orient:'vertical',padding:0,itemGap:10,itemWidth:47,itemHeight:6,selectedMode:false,z:30,
  textStyle:{fontFamily:FONT,fontSize:17,color:'#222',padding:[0,0,0,4]},
  data:[{name:legendEntries[0],icon:'path://M0 2.5H47V3.5H0Z M20.7 3A2.8 2.8 0 1 1 26.3 3A2.8 2.8 0 1 1 20.7 3Z',itemStyle:{color:'#000'}},
        {name:legendEntries[1],itemStyle:{color:'transparent',borderWidth:0,opacity:0},lineStyle:{color:'#f00',width:1.3}}]});
const box=left=>({type:'rect',left,top:450,shape:{width:262,height:88},z:20,style:{fill:'#fff',stroke:'#333',lineWidth:1.4}});

const thetaPoints=thetaLog.map((v,i)=>[(i+1.5)*THETA_BIN,Math.pow(10,v),Math.pow(10,thetaLogLo[i]),Math.pow(10,thetaLogHi[i])]);
const energyPoints=dataEnergyX.map((x,i)=>[x,dataEnergyY[i],Math.max(0,dataEnergyY[i]-dataEnergyErr[i]),dataEnergyY[i]+dataEnergyErr[i]]);

const series=[
 {type:'custom',name:'data map',xAxisIndex:0,yAxisIndex:0,renderItem:renderCell,data:parseCells(dataCells),encode:{x:0,y:1},clip:true,silent:true,animation:false},
 {type:'custom',name:'colour scale',xAxisIndex:1,yAxisIndex:1,renderItem:renderBar,data:barLog,silent:true,animation:false},
 {type:'custom',name:'MC map',xAxisIndex:2,yAxisIndex:3,renderItem:renderCell,data:parseCells(mcCells),encode:{x:0,y:1},clip:true,silent:true,animation:false},
 {type:'custom',name:'colour scale MC',xAxisIndex:3,yAxisIndex:4,renderItem:renderBar,data:barLog,silent:true,animation:false},
 {type:'custom',name:legendEntries[0],xAxisIndex:4,yAxisIndex:6,renderItem:renderPoint,data:energyPoints,encode:{x:0,y:1},itemStyle:{color:'#000'},clip:true,animation:false,z:3},
 {type:'line',name:legendEntries[1],xAxisIndex:4,yAxisIndex:6,step:'end',symbol:'none',data:binEdges(mcEnergy,ENERGY_BIN),lineStyle:{color:'#f00',width:1.3},itemStyle:{color:'#f00'},clip:true,animation:false,z:4},
 {type:'custom',name:legendEntries[0],xAxisIndex:5,yAxisIndex:8,renderItem:renderPoint,data:thetaPoints,encode:{x:0,y:1},itemStyle:{color:'#000'},clip:true,animation:false,z:3},
 {type:'line',name:legendEntries[1],xAxisIndex:5,yAxisIndex:8,step:'end',symbol:'none',data:binEdges(mcTheta,THETA_BIN),lineStyle:{color:'#f00',width:1.3},itemStyle:{color:'#f00'},clip:true,animation:false,z:4}
];

const option={
 animation:false,backgroundColor:'#fff',
 grid:grids,
 xAxis:[xLinear(0,4,.5,'Photon emission angle θ (mrad)'),hiddenX(1),xLinear(2,4,.5,'Photon emission angle θ (mrad)'),hiddenX(3),xLinear(4,100,10,'Photon energy ω (keV)'),xLinear(5,4,.5,'Photon emission angle θ (mrad)')],
 yAxis:[yLinear(0,'Photon energy ω (keV)',35),cb0[0],cb0[1],yLinear(2,'Photon energy ω (keV)',35),cb1[0],cb1[1],y3[0],y3[1],y4[0],y4[1]],
 visualMap:[{type:'continuous',show:false,seriesIndex:[0,1,2,3],dimension:2,min:Math.log10(CB_MIN),max:Math.log10(CB_MAX),
   inRange:{color:['#000080','#002a9c','#0055bf','#0088dd','#00ccff','#30d8c0','#80e870','#c8f030','#e8d820','#f09a10','#ff5a00','#d01800','#700000']}}],
 title:[
  mkTitle(line1,116,18),mkTitle(line2('data'),116,43),
  mkTitle(line1,718,18),mkTitle(line2('Monte Carlo'),718,43),
  mkTitle(line1,61,422),mkTitle(line1,662.5,422),
  mkTitle('{t|×10}{q|-3}',59,450,mulRich),
  Object.assign(mkTitle(lgHead,302,455,lgRich),{z:30}),Object.assign(mkTitle(lgHead,903,455,lgRich),{z:30})
 ],
 legend:[mkLegend(304),mkLegend(905)],
 graphic:[box(294),box(896)],
 series
};
echarts.init(document.getElementById('c'),null,{renderer:'canvas'}).setOption(option);
</script></body></html>
